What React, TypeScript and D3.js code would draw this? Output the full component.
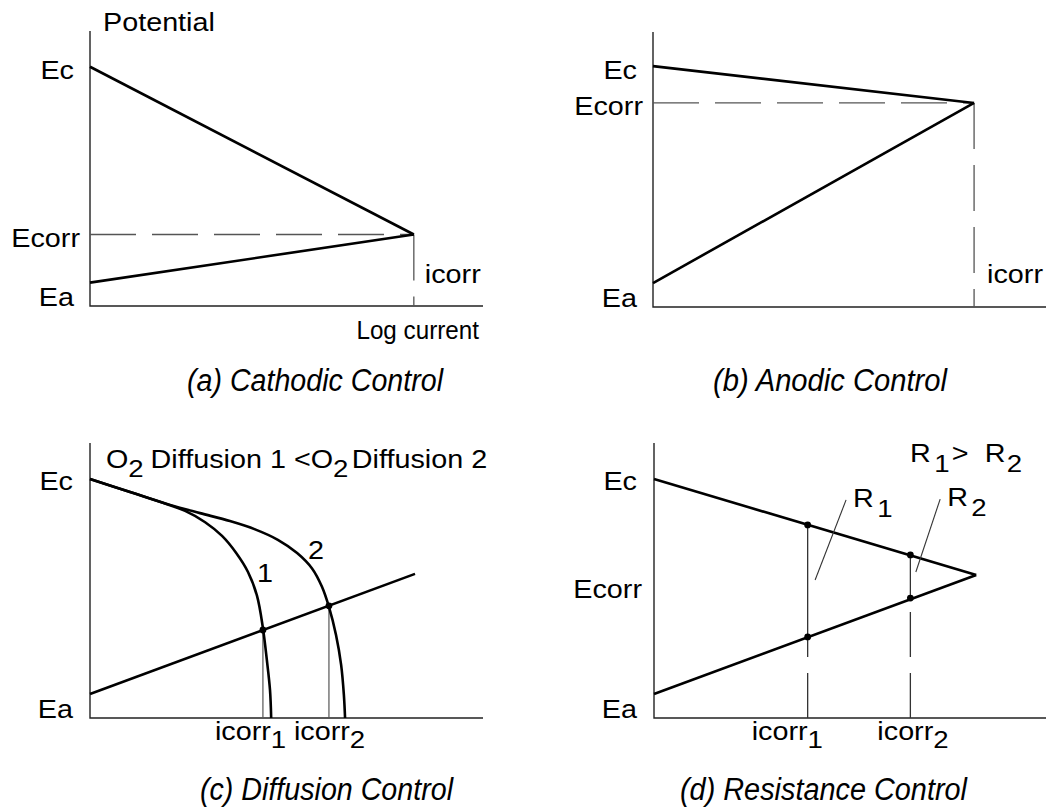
import React from "react";
import * as d3 from "d3";

// Polarization (Evans) diagrams for four corrosion control modes.
// Log current (x) and potential (y) are in relative units on 0–100 axes.
type Pt = [number, number];

// (a) Cathodic control
const aCathodic: Pt[] = [[0, 87.0], [82.4, 26.0]];
const aAnodic: Pt[] = [[0, 8.5], [82.4, 26.0]];
const aCorr: Pt = [82.4, 26.0];

// (b) Anodic control
const bCathodic: Pt[] = [[0, 87.6], [81.7, 74.2]];
const bAnodic: Pt[] = [[0, 8.7], [81.7, 74.2]];
const bCorr: Pt = [81.7, 74.2];

// (c) Diffusion control: cathodic curves with O2 limiting current 1 and 2
const cCurve1: Pt[] = [
  [0, 86.9], [10.2, 82.2], [17.8, 78.6], [24.2, 75.3], [29.3, 71.2],
  [33.6, 66.2], [37.2, 60.0], [40.2, 53.1], [42.5, 44.4], [44.0, 32.7],
  [45.0, 21.1], [45.8, 10.2], [46.1, 0],
];
const cCurve2: Pt[] = [
  [0, 86.9], [10.2, 82.2], [20.4, 77.5], [28.0, 74.5], [35.6, 71.6],
  [42.0, 68.6], [47.8, 64.8], [52.7, 60.0], [56.5, 54.4], [59.0, 47.8],
  [60.8, 40.4], [62.6, 30.2], [63.9, 19.3], [64.6, 8.4], [64.9, 0],
];
const cAnodic: Pt[] = [[0, 8.7], [82.7, 52.4]];
const cCorr: Pt[] = [[44.0, 32.0], [60.8, 40.8]];
const cCurveLabels = ["1", "2"];
const cCurveLabelPos: Pt[] = [[42.5, 49.5], [55.5, 57.8]];

// (d) Resistance control: IR drop between cathodic and anodic lines
const dCathodic: Pt[] = [[0, 86.9], [82.2, 52.0]];
const dAnodic: Pt[] = [[0, 8.7], [82.2, 52.0]];
const dCorrTop: Pt[] = [[39.2, 70.2], [65.4, 59.3]];
const dCorrBottom: Pt[] = [[39.2, 29.5], [65.4, 43.6]];
const dLeaders: [Pt, Pt][] = [
  [[49.0, 79.3], [41.1, 50.2]],
  [[73.0, 79.6], [66.8, 53.1]],
];
const dResistors = ["1", "2"];

const panelTitles = [
  "(a) Cathodic Control",
  "(b) Anodic Control",
  "(c) Diffusion Control",
  "(d) Resistance Control",
];

const FONT = "'Liberation Sans', Arial, Helvetica, sans-serif";
const INK = "#000";
const AXIS = "#222";
const DASH = "#555";
const DASHES = "46 16";
const LABEL_SIZE = 25;
const SUB_SIZE = 24;

type Frame = { left: number; top: number; width: number; height: number };
const frames: Frame[] = [
  { left: 90, top: 31, width: 393, height: 275 },
  { left: 653, top: 32, width: 393, height: 275 },
  { left: 90, top: 443, width: 393, height: 275 },
  { left: 654, top: 443, width: 392, height: 275 },
];

function scales(f: Frame) {
  const x = d3.scaleLinear().domain([0, 100]).range([f.left, f.left + f.width]);
  const y = d3.scaleLinear().domain([0, 100]).range([f.top + f.height, f.top]);
  return { x, y };
}

// Sans label, slightly widened
function Label({ x, y, anchor = "start", sx = 1.15, children }: any) {
  return (
    <text
      transform={`translate(${x},${y}) scale(${sx},1)`}
      fontSize={LABEL_SIZE}
      textAnchor={anchor}
      fontFamily={FONT}
      fill={INK}
    >
      {children}
    </text>
  );
}

function Axes({ f }: { f: Frame }) {
  return (
    <path
      d={`M${f.left},${f.top}V${f.top + f.height}H${f.left + f.width}`}
      fill="none"
      stroke={AXIS}
      strokeWidth={1.4}
    />
  );
}

function Title({ text, x, y, len }: { text: string; x: number; y: number; len: number }) {
  return (
    <text
      x={x}
      y={y}
      fontSize={31}
      fontStyle="italic"
      fontFamily={FONT}
      textLength={len}
      lengthAdjust="spacingAndGlyphs"
      fill={INK}
    >
      {text}
    </text>
  );
}

export default function App() {
  const sa = scales(frames[0]);
  const sb = scales(frames[1]);
  const sc = scales(frames[2]);
  const sd = scales(frames[3]);

  const la = d3.line<Pt>().x((p) => sa.x(p[0])).y((p) => sa.y(p[1]));
  const lb = d3.line<Pt>().x((p) => sb.x(p[0])).y((p) => sb.y(p[1]));
  const lc = d3.line<Pt>().x((p) => sc.x(p[0])).y((p) => sc.y(p[1]));
  const lcCurve = d3
    .line<Pt>()
    .curve(d3.curveCatmullRom.alpha(0.5))
    .x((p) => sc.x(p[0]))
    .y((p) => sc.y(p[1]));
  const ld = d3.line<Pt>().x((p) => sd.x(p[0])).y((p) => sd.y(p[1]));

  const fa = frames[0], fb = frames[1], fc = frames[2], fd = frames[3];
  const bottom = (f: Frame) => f.top + f.height;

  return (
    <svg
      width={1046}
      height={810}
      style={{ position: "absolute", left: 0, top: 0, background: "#fff" }}
    >
      <rect width={1046} height={810} fill="#fff" />

      {/* (a) Cathodic control */}
      <g>
        <Axes f={fa} />
        <path
          d={la([[0, aCorr[1]], aCorr])!}
          stroke={DASH}
          strokeWidth={1.3}
          strokeDasharray={DASHES}
          fill="none"
        />
        <path
          d={la([aCorr, [aCorr[0], 0]])!}
          stroke={DASH}
          strokeWidth={1.3}
          strokeDasharray={DASHES}
          fill="none"
        />
        <path d={la(aCathodic)!} stroke={INK} strokeWidth={2.6} fill="none" />
        <path d={la(aAnodic)!} stroke={INK} strokeWidth={2.6} fill="none" />
        <Label x={fa.left + 13} y={fa.top}>Potential</Label>
        <Label x={fa.left - 16} y={sa.y(aCathodic[0][1]) + 12} anchor="end">Ec</Label>
        <Label x={fa.left - 10} y={sa.y(aCorr[1]) + 12} anchor="end">Ecorr</Label>
        <Label x={fa.left - 16} y={bottom(fa)} anchor="end">Ea</Label>
        <Label x={sa.x(aCorr[0]) + 11} y={sa.y(aCorr[1]) + 48}>icorr</Label>
        <Label x={479} y={bottom(fa) + 33} anchor="end" sx={0.97}>Log current</Label>
      </g>

      {/* (b) Anodic control */}
      <g>
        <Axes f={fb} />
        <path
          d={lb([[0, bCorr[1]], bCorr])!}
          stroke={DASH}
          strokeWidth={1.3}
          strokeDasharray={DASHES}
          fill="none"
        />
        <path
          d={lb([bCorr, [bCorr[0], 0]])!}
          stroke={DASH}
          strokeWidth={1.3}
          strokeDasharray={DASHES}
          fill="none"
        />
        <path d={lb(bCathodic)!} stroke={INK} strokeWidth={2.6} fill="none" />
        <path d={lb(bAnodic)!} stroke={INK} strokeWidth={2.6} fill="none" />
        <Label x={fb.left - 16} y={sb.y(bCathodic[0][1]) + 12.5} anchor="end">Ec</Label>
        <Label x={fb.left - 10} y={sb.y(bCorr[1]) + 12} anchor="end">Ecorr</Label>
        <Label x={fb.left - 16} y={bottom(fb)} anchor="end">Ea</Label>
        <Label x={sb.x(bCorr[0]) + 13} y={bottom(fb) - 24}>icorr</Label>
      </g>

      {/* (c) Diffusion control */}
      <g>
        <Axes f={fc} />
        {cCorr.map((p, i) => (
          <line
            key={"cv" + i}
            x1={sc.x(p[0])}
            x2={sc.x(p[0])}
            y1={sc.y(p[1])}
            y2={sc.y(0)}
            stroke="#555"
            strokeWidth={1.2}
          />
        ))}
        <path d={lcCurve(cCurve1)!} stroke={INK} strokeWidth={2.6} fill="none" />
        <path d={lcCurve(cCurve2)!} stroke={INK} strokeWidth={2.6} fill="none" />
        <path d={lc(cAnodic)!} stroke={INK} strokeWidth={2.6} fill="none" />
        {cCorr.map((p, i) => (
          <circle key={"cd" + i} cx={sc.x(p[0])} cy={sc.y(p[1])} r={3.4} fill={INK} />
        ))}
        {cCurveLabels.map((t, i) => (
          <Label key={"cl" + i} x={sc.x(cCurveLabelPos[i][0])} y={sc.y(cCurveLabelPos[i][1])}>
            {t}
          </Label>
        ))}
        <Label x={106} y={468}>
          <tspan>O</tspan>
          <tspan dy={9} fontSize={SUB_SIZE}>2</tspan>
          <tspan dy={-9} dx={6}>Diffusion 1 &lt;O</tspan>
          <tspan dy={9} fontSize={SUB_SIZE}>2</tspan>
          <tspan dy={-9} dx={3}>Diffusion 2</tspan>
        </Label>
        <Label x={fc.left - 17} y={sc.y(cCurve1[0][1]) + 11} anchor="end">Ec</Label>
        <Label x={fc.left - 17} y={bottom(fc)} anchor="end">Ea</Label>
        <Label x={sc.x(cCorr[0][0]) - 48} y={bottom(fc) + 22}>
          icorr<tspan dy={8} fontSize={SUB_SIZE}>1</tspan>
        </Label>
        <Label x={sc.x(cCorr[1][0]) - 35} y={bottom(fc) + 22}>
          icorr<tspan dy={8} fontSize={SUB_SIZE}>2</tspan>
        </Label>
      </g>

      {/* (d) Resistance control */}
      <g>
        <Axes f={fd} />
        {dCorrTop.map((p, i) => (
          <g key={"dv" + i}>
            <line
              x1={sd.x(p[0])}
              x2={sd.x(p[0])}
              y1={sd.y(p[1])}
              y2={sd.y(dCorrBottom[i][1])}
              stroke="#333"
              strokeWidth={1.3}
            />
            <line
              x1={sd.x(p[0])}
              x2={sd.x(p[0])}
              y1={sd.y(0)}
              y2={sd.y(dCorrBottom[i][1])}
              stroke="#333"
              strokeWidth={1.3}
              strokeDasharray="45 16"
            />
          </g>
        ))}
        <path d={ld(dCathodic)!} stroke={INK} strokeWidth={2.6} fill="none" />
        <path d={ld(dAnodic)!} stroke={INK} strokeWidth={2.6} fill="none" />
        {[...dCorrTop, ...dCorrBottom].map((p, i) => (
          <circle key={"dd" + i} cx={sd.x(p[0])} cy={sd.y(p[1])} r={3.4} fill={INK} />
        ))}
        {dLeaders.map((seg, i) => (
          <path key={"dl" + i} d={ld(seg)!} stroke="#333" strokeWidth={1.1} fill="none" />
        ))}
        {dLeaders.map((seg, i) => (
          <Label key={"dr" + i} x={sd.x(seg[0][0]) + 7} y={sd.y(seg[0][1]) + 7}>
            R<tspan dx={3} dy={10} fontSize={SUB_SIZE}>{dResistors[i]}</tspan>
          </Label>
        ))}
        <Label x={910} y={462}>
          R<tspan dx={3} dy={10} fontSize={SUB_SIZE}>1</tspan>
          <tspan dy={-10} dx={2}>&gt;</tspan>
          <tspan dx={14}>R</tspan>
          <tspan dx={1} dy={10} fontSize={SUB_SIZE}>2</tspan>
        </Label>
        <Label x={fd.left - 17} y={sd.y(dCathodic[0][1]) + 11} anchor="end">Ec</Label>
        <Label x={fd.left - 12} y={sd.y(dCathodic[1][1]) + 23} anchor="end">Ecorr</Label>
        <Label x={fd.left - 17} y={bottom(fd)} anchor="end">Ea</Label>
        <Label x={sd.x(dCorrTop[0][0]) - 56} y={bottom(fd) + 22}>
          icorr<tspan dy={8} fontSize={SUB_SIZE}>1</tspan>
        </Label>
        <Label x={sd.x(dCorrTop[1][0]) - 33} y={bottom(fd) + 22}>
          icorr<tspan dy={8} fontSize={SUB_SIZE}>2</tspan>
        </Label>
      </g>

      <Title text={panelTitles[0]} x={187} y={391} len={256} />
      <Title text={panelTitles[1]} x={713} y={391} len={234} />
      <Title text={panelTitles[2]} x={200} y={800} len={253} />
      <Title text={panelTitles[3]} x={680} y={800} len={287} />
    </svg>
  );
}
